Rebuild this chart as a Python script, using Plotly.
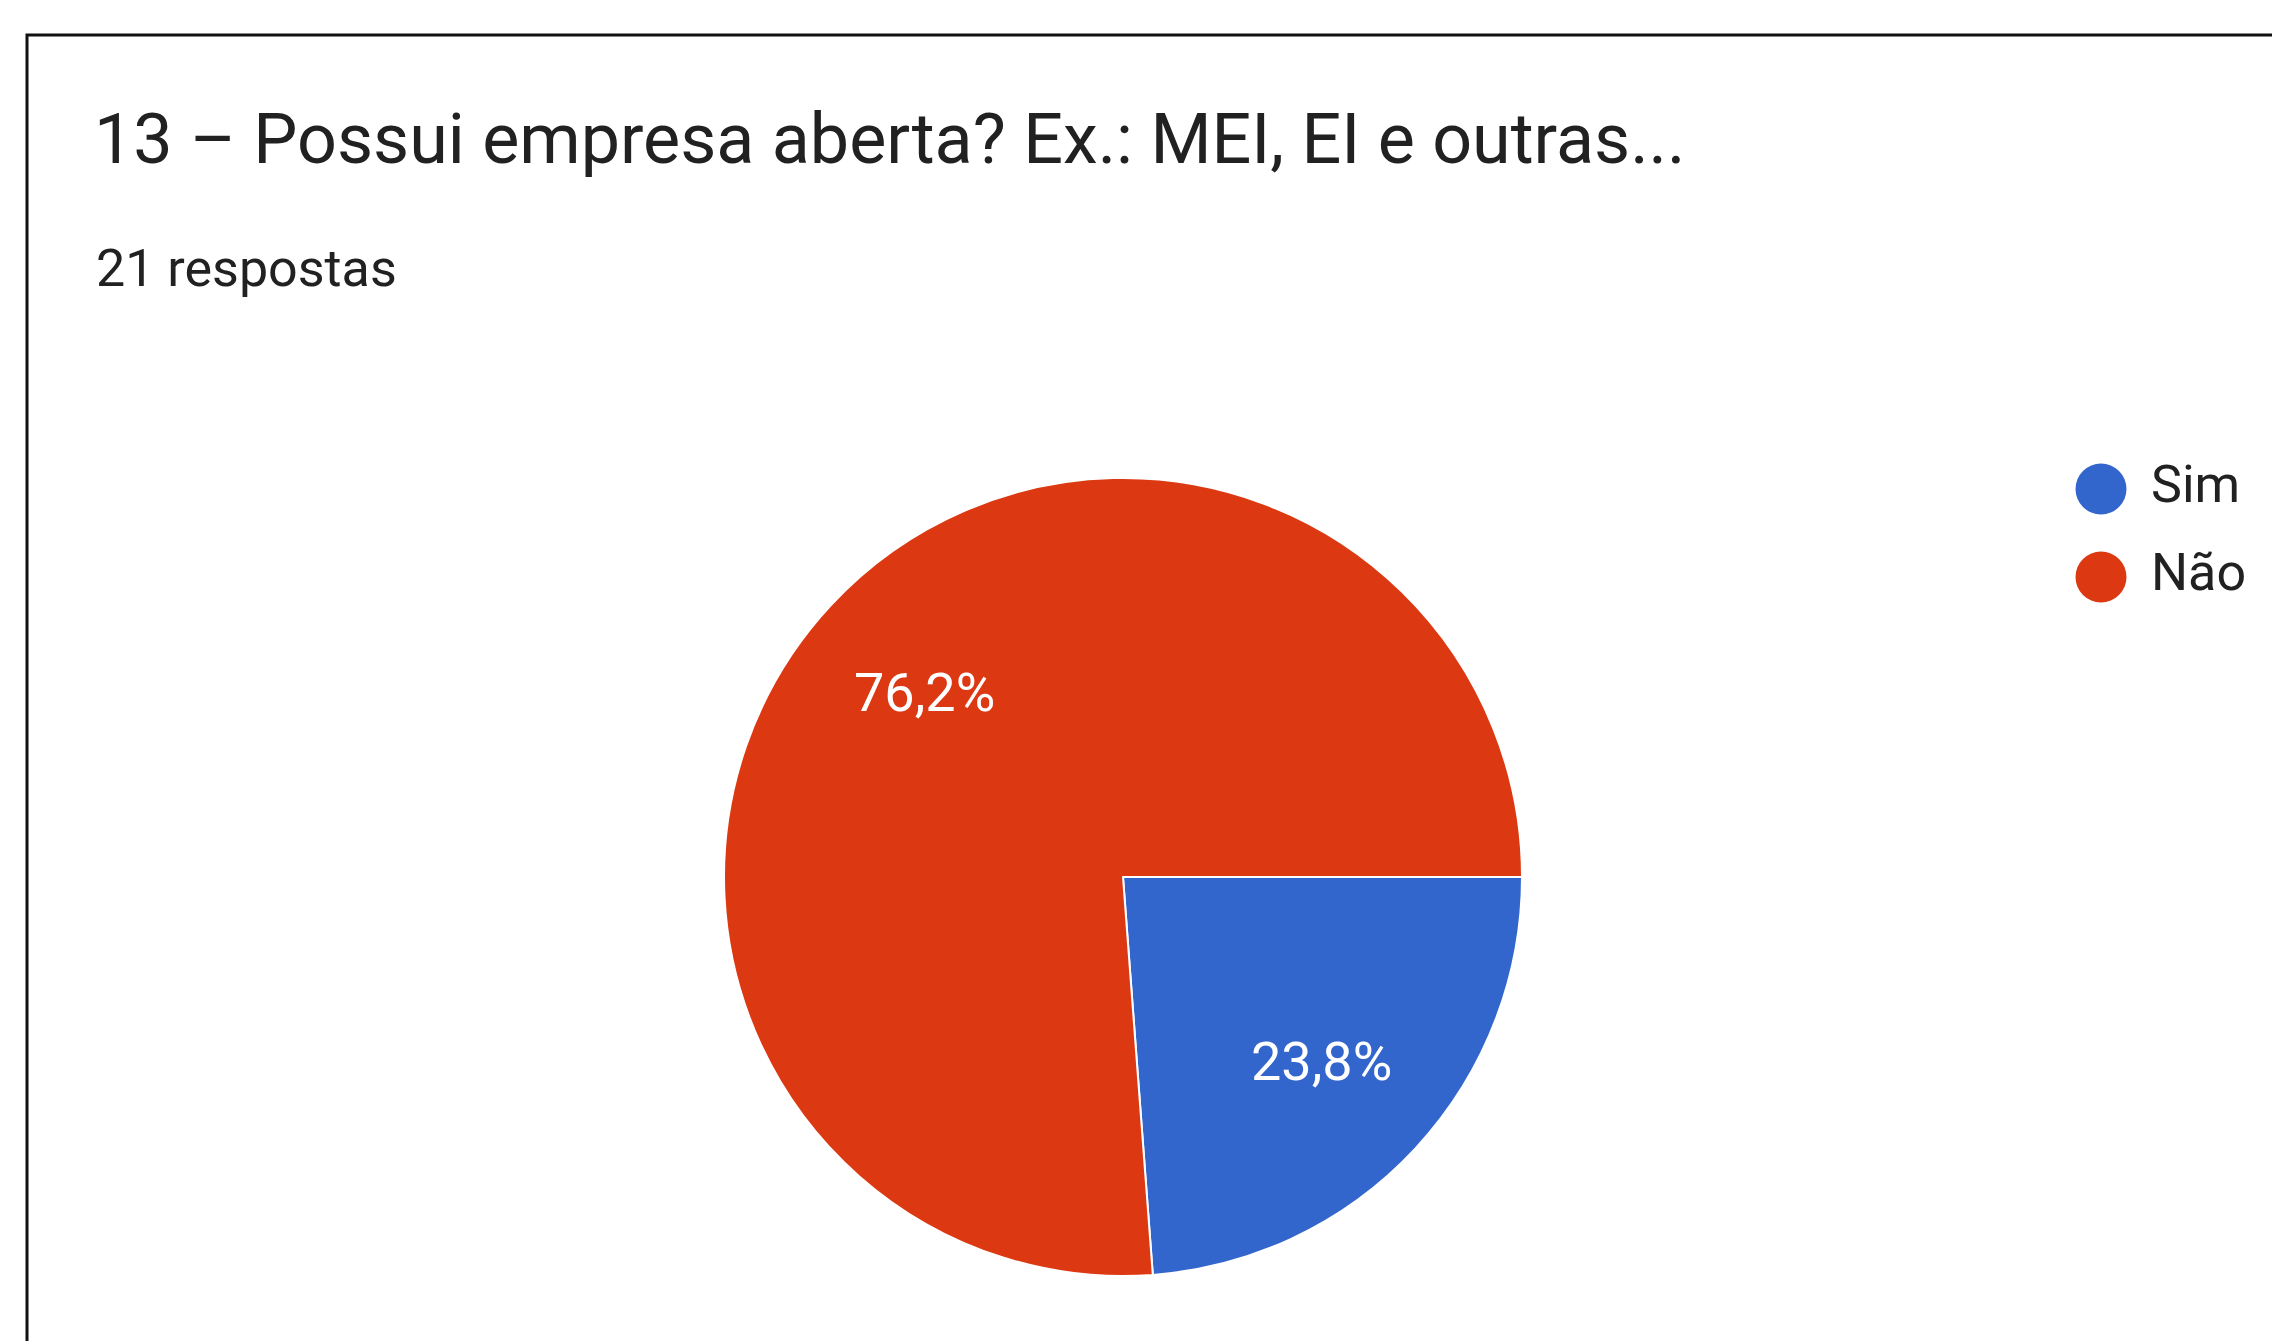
import math
import plotly.graph_objects as go

# ---- data ----
categories = ["Sim", "Não"]
counts = [5, 16]
colors = ["#3366CC", "#DC3912"]
title_text = "13 – Possui empresa aberta? Ex.: MEI, EI e outras..."
subtitle_text = "21 respostas"

# page has an 8px body margin: figure is drawn 8px in from the page edge
OFF = 8
W, H = 2280 - OFF, 1341 - OFF
FONT = "Roboto"


def px_x(p):  # page pixel -> paper
    return (p - OFF) / W


def px_y(p):  # page pixel (from top) -> paper
    return 1 - (p - OFF) / H


fig = go.Figure()

# pie
cx, cy, r = 1123, 877, 399
fig.add_trace(go.Pie(
    labels=categories,
    values=counts,
    marker=dict(colors=colors, line=dict(color="white", width=2)),
    sort=False,
    direction="clockwise",
    rotation=90,
    textinfo="none",
    showlegend=False,
    hoverinfo="label+percent",
    domain=dict(x=[px_x(cx - r), px_x(cx + r)], y=[px_y(cy + r), px_y(cy - r)]),
))

# percentage labels at each slice's mid-angle (as the original chart places them)
total = sum(counts)
start = 0.0  # degrees clockwise from 3 o'clock
for val in counts:
    frac = val / total
    mid = math.radians(start + frac * 360 / 2)
    lx = cx + 0.68 * r * math.cos(mid)
    ly = cy + 0.68 * r * math.sin(mid)
    fig.add_annotation(
        text=f"{frac * 100:.1f}%".replace(".", ","),
        xref="paper", yref="paper", x=px_x(lx), y=px_y(ly),
        xanchor="center", yanchor="middle", showarrow=False,
        font=dict(family=FONT, size=54, color="white"),
    )
    start += frac * 360

# custom legend (circle markers) drawn through a small hidden axis
idx = list(range(len(categories)))
fig.add_trace(go.Scatter(
    x=[0] * len(categories), y=idx, mode="markers",
    marker=dict(size=51, color=colors, line=dict(width=0)),
    showlegend=False, hoverinfo="skip", cliponaxis=False,
    xaxis="x", yaxis="y",
))
fig.add_trace(go.Scatter(
    x=[1.0] * len(categories), y=idx, mode="text",
    text=categories, textposition="middle right",
    textfont=dict(family=FONT, size=52, color="#212121"),
    showlegend=False, hoverinfo="skip", cliponaxis=False,
    xaxis="x", yaxis="y",
))

leg_cx, leg_cy, step = 2101, 533, 88
fig.update_layout(
    xaxis=dict(domain=[px_x(leg_cx - 50), px_x(leg_cx + 50)], range=[-1, 1],
               visible=False, fixedrange=True),
    yaxis=dict(domain=[px_y(leg_cy + step), px_y(leg_cy - step)], range=[1.5, -0.5],
               visible=False, fixedrange=True),
)

fig.add_annotation(
    text=title_text, xref="paper", yref="paper",
    x=px_x(92), y=px_y(139), xanchor="left", yanchor="middle",
    showarrow=False, font=dict(family=FONT, size=70, color="#212121"),
)
fig.add_annotation(
    text=subtitle_text, xref="paper", yref="paper",
    x=px_x(94), y=px_y(268), xanchor="left", yanchor="middle",
    showarrow=False, font=dict(family=FONT, size=52, color="#212121"),
)

# frame border
fig.add_shape(type="rect", xref="paper", yref="paper",
              x0=px_x(27), x1=1.02, y0=-0.02, y1=px_y(35),
              line=dict(color="#111111", width=3), fillcolor="rgba(0,0,0,0)", layer="above")

fig.update_layout(
    width=W, height=H,
    margin=dict(l=0, r=0, t=0, b=0),
    paper_bgcolor="white", plot_bgcolor="white",
    separators=",.",
    font=dict(family=FONT),
)

fig.write_html("out.html")
